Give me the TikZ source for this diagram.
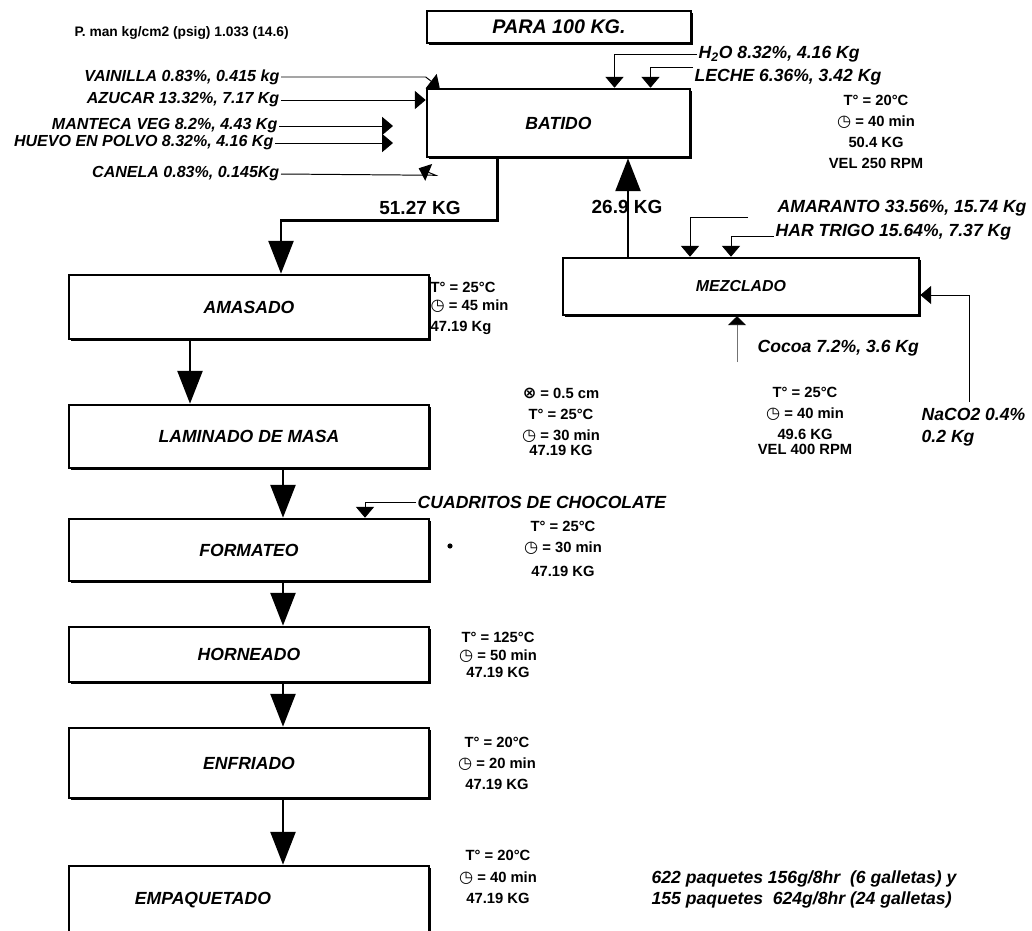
\documentclass[tikz,border=0pt]{standalone}
\usepackage{fontspec}
\setmainfont{Liberation Sans}
\newfontfamily\symfont{DejaVu Sans}
\usetikzlibrary{arrows.meta,calc,shadows}

\newcommand{\reloj}{{\symfont\fontsize{11.5}{11.5}\selectfont ◷}}
\newcommand{\espesor}{{\symfont\fontsize{11.5}{11.5}\selectfont ⊗}}

\begin{document}
\begin{tikzpicture}[
			x=0.025cm,y=-0.025cm,
			proc/.style={draw,fill=white,line width=1.8pt,minimum width=9cm,inner sep=0pt,
				font=\fontsize{12.5}{15}\selectfont\bfseries\itshape,
				drop shadow={shadow xshift=1.2pt,shadow yshift=-1.2pt,opacity=1,fill=black}},
			flow/.style={-{Triangle[length=0.82cm,width=0.62cm]},line width=2pt},
			feed/.style={-{Triangle[length=0.27cm,width=0.45cm]},line width=0.7pt},
			ing/.style={inner sep=1pt,font=\fontsize{12.5}{15}\selectfont\bfseries\itshape},
			ingl/.style={inner sep=1pt,font=\fontsize{11.4}{14}\selectfont\bfseries\itshape},
			cond/.style={inner sep=1pt,align=center,font=\fontsize{10.5}{15}\selectfont\bfseries},
			kg/.style={inner sep=1pt,font=\fontsize{13.5}{16}\selectfont\bfseries}]
			\useasboundingbox (0,0) rectangle (1032,930);
			\clip (0,0) rectangle (1032,930);
			\fill[white] (0,0) rectangle (1032,930);
			% etapas del proceso
			\node[proc,minimum width=6.6cm,minimum height=0.8cm,
				font=\fontsize{14}{16}\selectfont\bfseries\itshape] (para) at (559,27) {PARA 100 KG.};
			\node[proc,minimum width=6.575cm,minimum height=1.7cm] (batido) at (558.5,123) {BATIDO};
			\node[proc,minimum height=1.6cm] (amasado) at (249,307) {AMASADO};
			\node[proc,minimum height=1.575cm] (laminado) at (249,436.5) {LAMINADO DE MASA};
			\node[proc,minimum height=1.55cm] (formateo) at (249,550) {FORMATEO};
			\node[proc,minimum height=1.375cm] (horneado) at (249,654.5) {HORNEADO};
			\node[proc,minimum height=1.75cm] (enfriado) at (249,763) {ENFRIADO};
			\node[proc,minimum height=2.1cm] (empaquetado) at (249,908) {};
			\node[font=\fontsize{12.5}{15}\selectfont\bfseries\itshape] (empaq) at (203,900) {EMPAQUETADO};
			\node[proc,minimum width=8.9cm,minimum height=1.425cm,
				font=\fontsize{11.3}{14}\selectfont\bfseries\itshape] (mezclado) at (741,286.5) {MEZCLADO};
			% ingredientes
			\node[anchor=east,inner sep=0pt,font=\fontsize{9.8}{11}\selectfont\bfseries] (pman) at (289,33) {P. man kg/cm2 (psig) 1.033 (14.6)};
			\node[ingl,anchor=east] (vainilla) at (281,77) {VAINILLA 0.83\%, 0.415 kg};
			\node[ingl,anchor=east] (azucar) at (281,100) {AZUCAR 13.32\%, 7.17 Kg};
			\node[ingl,anchor=east] (manteca) at (279,126) {MANTECA VEG 8.2\%, 4.43 Kg};
			\node[ingl,anchor=east] (huevo) at (275,143) {HUEVO EN POLVO 8.32\%, 4.16 Kg};
			\node[ingl,anchor=east] (canela) at (281,174) {CANELA 0.83\%, 0.145Kg};
			\node[ing,anchor=west] (agua) at (697,54) {H\textsubscript{2}O 8.32\%, 4.16 Kg};
			\node[ing,anchor=west] (leche) at (693,77) {LECHE 6.36\%, 3.42 Kg};
			\node[ing,anchor=west] (amaranto) at (776,208) {AMARANTO 33.56\%, 15.74 Kg};
			\node[ing,anchor=west] (trigo) at (774,232) {HAR TRIGO 15.64\%, 7.37 Kg};
			\node[ing,anchor=west] (cocoa) at (756,348) {Cocoa 7.2\%, 3.6 Kg};
			\node[ing,anchor=north west,align=left] (naco) at (920,407) {NaCO2 0.4\%\\0.2 Kg};
			\node[ing,anchor=west] (cuadritos) at (416,502) {CUADRITOS DE CHOCOLATE};
			\coordinate (tope) at (393,0);
			\coordinate (cocoain) at (737,362);
			\coordinate (nacoin) at (969,402);
			% condiciones
			\node[cond,anchor=north] (condbat) at (876,93) {T° = 20°C\\\reloj{} = 40 min\\50.4 KG\\VEL 250 RPM};
			\node[cond,anchor=north west,align=left] (condama) at (429,280) {T° = 25°C\\[-2pt]\reloj{} = 45 min\\47.19 Kg};
			\node[cond,anchor=north] (condlam) at (561,386) {\espesor{} = 0.5 cm\\T° = 25°C\\\reloj{} = 30 min\\[-4pt]47.19 KG};
			\node[cond,anchor=north] (condmez) at (805,385) {T° = 25°C\\\reloj{} = 40 min\\49.6 KG\\[-4pt]VEL 400 RPM};
			\node[cond,anchor=north] (condfor) at (563,519) {T° = 25°C\\\reloj{} = 30 min\\[2pt]47.19 KG};
			\node[cond,anchor=north] (condhor) at (498,630) {T° = 125°C\\[-2pt]\reloj{} = 50 min\\[-3pt]47.19 KG};
			\node[cond,anchor=north] (condenf) at (497,735) {T° = 20°C\\\reloj{} = 20 min\\47.19 KG};
			\node[cond,anchor=north] (condemp) at (498,848) {T° = 20°C\\[1pt]\reloj{} = 40 min\\47.19 KG};
			\node[ing,anchor=north west,align=left] (paquetes) at (650,869) {622 paquetes 156g/8hr\ \ (6 galletas) y\\155 paquetes\ \ 624g/8hr (24 galletas)};
			\node[circle,fill=black,inner sep=1.3pt] (punto) at (450,546) {};
			\node[kg] (kga) at (420,208) {51.27 KG};
			\node[kg] (kgb) at (627,207) {26.9 KG};
			% alimentaciones
			\draw[feed] (vainilla.east) -- (vainilla.east -| batido.west) -- ($(batido.north west)+(14,0)$);
			\draw[feed] (azucar.east) -- (azucar.east -| batido.west);
			\draw[feed] (manteca.east) -- (manteca.east -| tope);
			\draw[feed] (huevo.east) -- (huevo.east -| tope);
			\draw[feed] (canela.east) -- ($(batido.south west)+(10,17)$) -- ($(batido.south west)+(-7,10)$);
			\draw[feed] (agua.west) -| ($(batido.north)+(56,0)$);
			\draw[feed] (leche.north west) -| ($(batido.north)+(92,0)$);
			\draw[feed] ($(amaranto.south west)+(-28,0)$) -| ($(mezclado.north)+(-51,0)$);
			\draw[feed] (trigo.base west) -| ($(mezclado.north)+(-10,0)$);
			\draw[-{Triangle[length=0.22cm,width=0.45cm,color=black]},draw=black!55,line width=0.5pt] (cocoain) -- (cocoain |- mezclado.south);
			\draw[feed] (nacoin) |- ($(mezclado.east)+(0,8.5)$);
			\draw[feed] (cuadritos.west) -| ($(formateo.north)+(116,0)$);
			% flujo principal
			\draw[flow] ($(batido.south)+(-61,0)$) -- ++(0,62) -| ($(amasado.north)+(32,0)$);
			\draw[flow] ($(mezclado.north)+(-113,0)$) coordinate (s0) -- (s0 |- batido.south);
			\draw[flow] ($(amasado.south)+(-59,0)$) coordinate (s1) -- (s1 |- laminado.north);
			\draw[flow] ($(laminado.south)+(34,0)$) coordinate (s2) -- (s2 |- formateo.north);
			\draw[flow] ($(formateo.south)+(34,0)$) coordinate (s3) -- (s3 |- horneado.north);
			\draw[flow] ($(horneado.south)+(34,0)$) coordinate (s4) -- (s4 |- enfriado.north);
			\draw[flow] ($(enfriado.south)+(34,0)$) coordinate (s5) -- (s5 |- empaquetado.north);
		\end{tikzpicture}
\end{document}
